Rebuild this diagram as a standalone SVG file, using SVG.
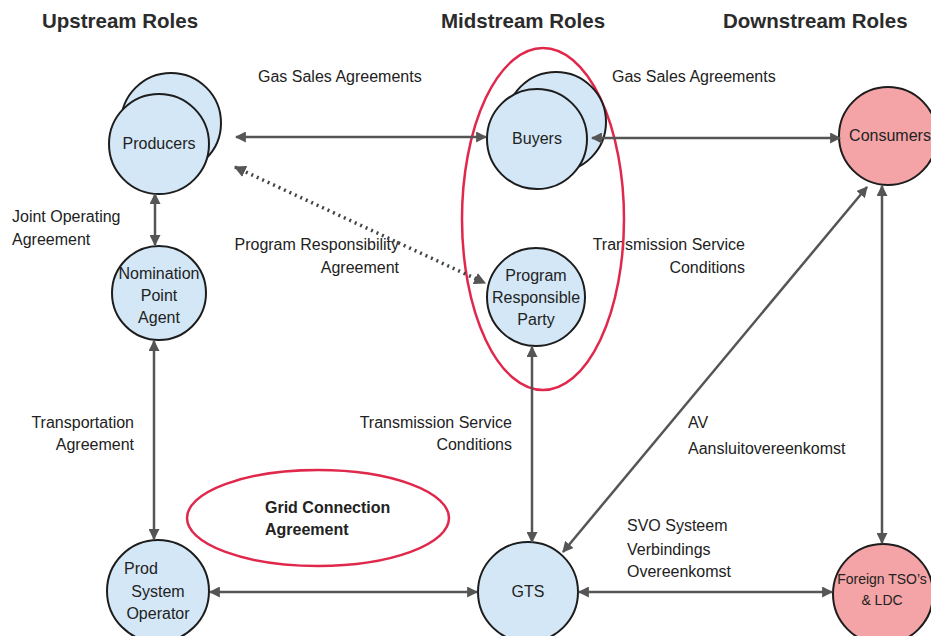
<svg xmlns="http://www.w3.org/2000/svg" width="931" height="636" viewBox="0 0 931 636">
  <style>
    .bg { fill: #ffffff; }
    .head { font-family: "Liberation Sans", Arial, sans-serif; font-size: 20.5px; font-weight: bold; fill: #2b2b2b; }
    .lbl { font-family: "Liberation Sans", Arial, sans-serif; font-size: 16px; fill: #222222; }
    .ntext { font-family: "Liberation Sans", Arial, sans-serif; font-size: 16px; fill: #222222; text-anchor: middle; }
    .small { font-size: 14px; }
    .blue { fill: #d3e7f6; stroke: #1d1d1d; stroke-width: 2; }
    .pink { fill: #f4a3a6; stroke: #1d1d1d; stroke-width: 2; }
    .ring { fill: none; stroke: #e0284c; stroke-width: 2.5; }
    .conn { stroke: #555555; stroke-width: 2.5; fill: none; marker-start: url(#arr); marker-end: url(#arr); }
    .dot { stroke: #444444; stroke-width: 3.5; stroke-dasharray: 2 4; fill: none; }
    .bold { font-weight: bold; }
  </style>
  <defs>
    <marker id="arr" viewBox="0 0 10 10" refX="9" refY="5" markerWidth="4.4" markerHeight="4.4" orient="auto-start-reverse" markerUnits="strokeWidth">
      <path d="M0,0 L10,5 L0,10 Z" fill="#555555"/>
    </marker>
    <marker id="arrd" viewBox="0 0 10 10" refX="9" refY="5" markerWidth="3.4" markerHeight="3.4" orient="auto-start-reverse" markerUnits="strokeWidth">
      <path d="M0,0 L10,5 L0,10 Z" fill="#555555"/>
    </marker>
  </defs>
  <rect class="bg" x="0" y="0" width="931" height="636"/>

  <!-- column headings -->
  <text class="head" x="42" y="28">Upstream Roles</text>
  <text class="head" x="441" y="28">Midstream Roles</text>
  <text class="head" x="723" y="28">Downstream Roles</text>

  <!-- connector labels -->
  <text class="lbl" x="258" y="82">Gas Sales Agreements</text>
  <text class="lbl" x="612" y="82">Gas Sales Agreements</text>
  <text class="lbl" x="12" y="222">Joint Operating</text>
  <text class="lbl" x="12" y="245">Agreement</text>
  <text class="lbl" x="399" y="250" text-anchor="end">Program Responsibility</text>
  <text class="lbl" x="399" y="273" text-anchor="end">Agreement</text>
  <text class="lbl" x="745" y="250" text-anchor="end">Transmission Service</text>
  <text class="lbl" x="745" y="273" text-anchor="end">Conditions</text>
  <text class="lbl" x="134" y="428" text-anchor="end">Transportation</text>
  <text class="lbl" x="134" y="450" text-anchor="end">Agreement</text>
  <text class="lbl" x="512" y="428" text-anchor="end">Transmission Service</text>
  <text class="lbl" x="512" y="450" text-anchor="end">Conditions</text>
  <text class="lbl" x="688" y="428">AV</text>
  <text class="lbl" x="688" y="454">Aansluitovereenkomst</text>
  <text class="lbl" x="627" y="531">SVO Systeem</text>
  <text class="lbl" x="627" y="555">Verbindings</text>
  <text class="lbl" x="627" y="577">Overeenkomst</text>

  <!-- grouping rings -->
  <ellipse class="ring" cx="543" cy="219" rx="81" ry="171"/>
  <g id="grid-connection">
    <ellipse class="ring" cx="318" cy="518" rx="131" ry="48"/>
    <text class="lbl bold" x="265" y="513">Grid Connection</text>
    <text class="lbl bold" x="265" y="535">Agreement</text>
  </g>

  <!-- nodes -->
  <g id="producers">
    <circle class="blue" cx="171" cy="123" r="50"/>
    <circle class="blue" cx="159" cy="144" r="50"/>
    <text class="ntext" x="159" y="149">Producers</text>
  </g>
  <g id="buyers">
    <circle class="blue" cx="556" cy="122" r="50"/>
    <circle class="blue" cx="537" cy="139" r="50"/>
    <text class="ntext" x="537" y="144">Buyers</text>
  </g>
  <g id="consumers">
    <circle class="pink" cx="888" cy="136" r="49"/>
    <text class="ntext" x="890" y="141">Consumers</text>
  </g>
  <g id="nomination-point-agent">
    <circle class="blue" cx="159" cy="293" r="47"/>
    <text class="ntext" x="159" y="279">Nomination</text>
    <text class="ntext" x="159" y="301">Point</text>
    <text class="ntext" x="159" y="323">Agent</text>
  </g>
  <g id="program-responsible-party">
    <circle class="blue" cx="536" cy="297" r="49"/>
    <text class="ntext" x="536" y="281">Program</text>
    <text class="ntext" x="536" y="303">Responsible</text>
    <text class="ntext" x="536" y="325">Party</text>
  </g>
  <g id="prod-system-operator">
    <circle class="blue" cx="158" cy="591" r="51"/>
    <text class="ntext" x="141" y="574">Prod</text>
    <text class="ntext" x="158" y="597">System</text>
    <text class="ntext" x="158" y="619">Operator</text>
  </g>
  <g id="gts">
    <circle class="blue" cx="528" cy="592" r="50"/>
    <text class="ntext" x="528" y="597">GTS</text>
  </g>
  <g id="foreign-tso">
    <circle class="pink" cx="883" cy="594" r="50"/>
    <text class="ntext small" x="882" y="584">Foreign TSO’s</text>
    <text class="ntext small" x="882" y="605">&amp; LDC</text>
  </g>

  <!-- connectors, drawn above the node discs -->
  <g id="connectors">
    <line class="conn" x1="236" y1="137" x2="486" y2="137"/>
    <line class="conn" x1="592" y1="138" x2="840" y2="138"/>
    <line class="conn" x1="155" y1="194" x2="155" y2="245"/>
    <line class="conn" x1="154" y1="341" x2="154" y2="539"/>
    <line class="conn" x1="210" y1="592" x2="477" y2="592"/>
    <line class="conn" x1="579" y1="592" x2="832" y2="592"/>
    <line class="conn" x1="532" y1="347" x2="532" y2="542"/>
    <line class="conn" x1="882" y1="186" x2="882" y2="543"/>
    <line class="conn" x1="563" y1="552" x2="867" y2="187"/>
    <line class="dot" x1="235" y1="167" x2="485" y2="283" marker-start="url(#arrd)" marker-end="url(#arrd)"/>
  </g>
</svg>
